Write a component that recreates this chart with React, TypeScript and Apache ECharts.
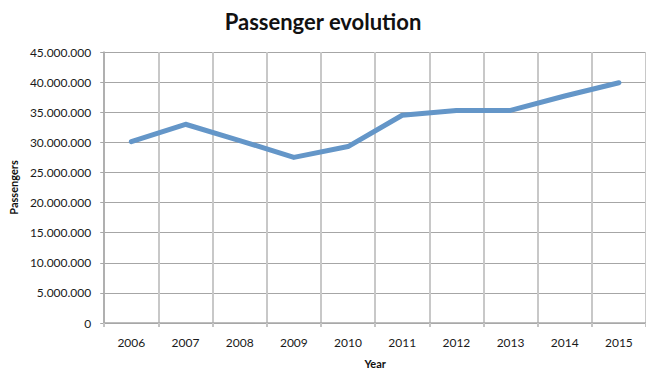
import React, { useEffect, useRef } from "react";
import * as echarts from "echarts";

const years = ["2006", "2007", "2008", "2009", "2010", "2011", "2012", "2013", "2014", "2015"];
const passengers = [30100000, 33000000, 30300000, 27500000, 29300000, 34500000, 35300000, 35300000, 37700000, 39900000];

const yMin = 0;
const yMax = 45000000;
const yStep = 5000000;

const FONT = "Lato, 'Open Sans', sans-serif";

const formatThousands = (v: number) =>
  String(Math.round(v)).replace(/\B(?=(\d{3})+(?!\d))/g, ".");

export default function App() {
  const ref = useRef<HTMLDivElement>(null);

  useEffect(() => {
    if (!ref.current) return;
    const chart = echarts.init(ref.current, null, { renderer: "svg" });
    chart.setOption({
      animation: false,
      backgroundColor: "#ffffff",
      title: {
        text: "Passenger evolution",
        left: "center",
        top: 5,
        textStyle: { fontFamily: FONT, fontSize: 22, fontWeight: "bold", color: "#111" },
      },
      grid: { left: 102, top: 52, width: 552, height: 279 },
      xAxis: {
        type: "category",
        data: years,
        boundaryGap: true,
        name: "Year",
        nameLocation: "middle",
        nameGap: 35,
        nameTextStyle: { fontFamily: FONT, fontSize: 11, fontWeight: "bold", color: "#111" },
        axisLine: { show: true, lineStyle: { color: "#a8a8a8", width: 1.5 } },
        axisTick: { show: true, length: 4, lineStyle: { color: "#c4c4c4", width: 2 } },
        axisLabel: { margin: 13, fontFamily: FONT, fontSize: 12, color: "#1a1a1a" },
        splitLine: { show: true, lineStyle: { color: "#c8c8c8", width: 2 } },
      },
      yAxis: {
        type: "value",
        min: yMin,
        max: yMax,
        interval: yStep,
        name: "Passengers",
        nameLocation: "middle",
        nameGap: 78,
        nameTextStyle: { fontFamily: FONT, fontSize: 11, fontWeight: "bold", color: "#111" },
        axisLine: { show: true, lineStyle: { color: "#a8a8a8", width: 1.5 } },
        axisTick: { show: true, length: 4, lineStyle: { color: "#a8a8a8", width: 1 } },
        axisLabel: {
          margin: 13,
          fontFamily: FONT,
          fontSize: 12,
          color: "#1a1a1a",
          formatter: (v: number) => formatThousands(v),
        },
        splitLine: { show: true, lineStyle: { color: "#a6a6a6", width: 1.2 } },
      },
      series: [
        {
          type: "line",
          data: passengers,
          symbol: "none",
          lineStyle: { color: "#6496c8", width: 5, join: "round", cap: "round" },
        },
      ],
    });
    return () => chart.dispose();
  }, []);

  return (
    <div
      ref={ref}
      style={{ position: "fixed", left: 0, top: 0, width: 646, height: 374, background: "#fff" }}
    />
  );
}
